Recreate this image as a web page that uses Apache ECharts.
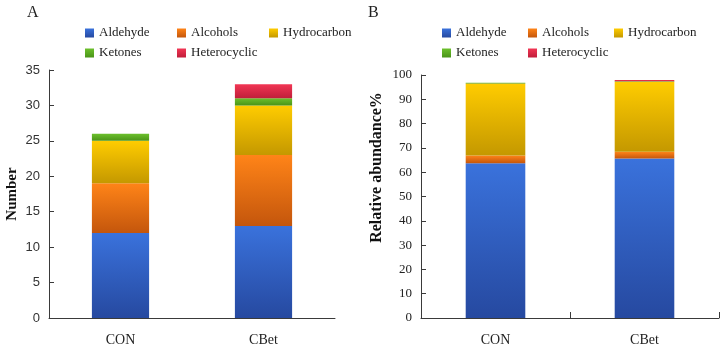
<!DOCTYPE html>
<html>
<head>
<meta charset="utf-8">
<script src="https://cdn.jsdelivr.net/npm/echarts@6/dist/echarts.min.js"></script>
<style>
  html, body { margin: 0; padding: 0; background: #fff; }
  #chart { width: 725px; height: 350px; }
</style>
</head>
<body>
<div id="chart"></div>
<script>
const groups = ['CON', 'CBet']
const classes = ['Aldehyde', 'Alcohols', 'Hydrocarbon', 'Ketones', 'Heterocyclic']

// panel A: number of compounds, one array per class, [CON, CBet]
const countAldehyde = [12, 13]
const countAlcohols = [7, 10]
const countHydrocarbon = [6, 7]
const countKetones = [1, 1]
const countHeterocyclic = [0, 2]

// panel B: relative abundance %, [CON, CBet]
const relAldehyde = [63.7, 65.6]
const relAlcohols = [3.2, 2.8]
const relHydrocarbon = [29.6, 28.8]
const relKetones = [0.3, 0.2]
const relHeterocyclic = [0, 0.5]

const countTicks = [0, 5, 10, 15, 20, 25, 30, 35]
const relTicks = [0, 10, 20, 30, 40, 50, 60, 70, 80, 90, 100]

const countData = [countAldehyde, countAlcohols, countHydrocarbon, countKetones, countHeterocyclic]
const relData = [relAldehyde, relAlcohols, relHydrocarbon, relKetones, relHeterocyclic]

const serif = '"Liberation Serif", "Times New Roman", serif'
const sans = '"Liberation Sans", Arial, sans-serif'
const axisColor = '#3a3a3a'

// excel-ish vertical gradient on each segment
const shades = [
    ['#3a72dc', '#2649a0'],
    ['#ff8418', '#c4560c'],
    ['#ffcc00', '#c49800'],
    ['#6cc02c', '#4a9418'],
    ['#f23654', '#c01e3a']
]
function grad(i) {
    return new echarts.graphic.LinearGradient(0, 0, 0, 1, [
        { offset: 0, color: shades[i][0] },
        { offset: 1, color: shades[i][1] }
    ])
}

let myChart = echarts.init(document.getElementById('chart'), null, { renderer: 'canvas' })

function legendFor(left, textW) {
    return {
        left: left,
        top: 21,
        width: 3 * (9 + 5 + textW + 6) - 3,
        orient: 'horizontal',
        itemWidth: 9,
        itemHeight: 9,
        itemGap: 6,
        icon: 'rect',
        data: classes,
        textStyle: {
            fontFamily: serif,
            fontSize: 13,
            color: '#222',
            width: textW,
            lineHeight: 14
        }
    }
}

function seriesFor(data, axisIndex) {
    return classes.map((name, i) => ({
        name: name,
        type: 'bar',
        stack: 'tot' + axisIndex,
        xAxisIndex: axisIndex,
        yAxisIndex: axisIndex,
        barWidth: '40%',
        data: data[i],
        itemStyle: { color: grad(i) },
        emphasis: { disabled: true },
        animation: false
    }))
}

let option = {
    backgroundColor: '#fff',
    animation: false,
    graphic: [
        { type: 'text', left: 27, top: 5, style: { text: 'A', font: '16px ' + serif, fill: '#222' } },
        { type: 'text', left: 368, top: 5, style: { text: 'B', font: '16px ' + serif, fill: '#222' } }
    ],
    legend: [legendFor(80, 72), legendFor(437, 66)],
    grid: [
        { left: 49, top: 70, width: 286, bottom: 32 },
        { left: 421, top: 75, width: 298, bottom: 32 }
    ],
    xAxis: [
        {
            type: 'category',
            gridIndex: 0,
            data: groups,
            axisLine: { lineStyle: { color: axisColor, width: 1 } },
            axisTick: { show: false },
            axisLabel: { fontFamily: serif, fontSize: 14, color: '#222', margin: 15 }
        },
        {
            type: 'category',
            gridIndex: 1,
            data: groups,
            axisLine: { lineStyle: { color: axisColor, width: 1 } },
            axisTick: { show: true, inside: true, length: 6, lineStyle: { color: axisColor } },
            axisLabel: { fontFamily: serif, fontSize: 14, color: '#222', margin: 15 }
        }
    ],
    yAxis: [
        {
            type: 'value',
            gridIndex: 0,
            min: countTicks[0],
            max: countTicks[countTicks.length - 1],
            interval: 5,
            name: 'Number',
            nameLocation: 'middle',
            nameGap: 29,
            nameTextStyle: { fontFamily: serif, fontSize: 15, fontWeight: 'bold', color: '#111' },
            axisLine: { show: true, lineStyle: { color: axisColor, width: 1 } },
            axisTick: { show: true, inside: true, length: 5, lineStyle: { color: axisColor } },
            axisLabel: { fontFamily: sans, fontSize: 13, color: '#333', margin: 9 },
            splitLine: { show: false }
        },
        {
            type: 'value',
            gridIndex: 1,
            min: relTicks[0],
            max: relTicks[relTicks.length - 1],
            interval: 10,
            name: 'Relative abundance%',
            nameLocation: 'middle',
            nameGap: 36,
            nameTextStyle: { fontFamily: serif, fontSize: 16, fontWeight: 'bold', color: '#111', padding: [0, 0, 0, 58] },
            axisLine: { show: true, lineStyle: { color: axisColor, width: 1 } },
            axisTick: { show: true, inside: true, length: 5, lineStyle: { color: axisColor } },
            axisLabel: { fontFamily: serif, fontSize: 13, color: '#222', margin: 9 },
            splitLine: { show: false }
        }
    ],
    series: seriesFor(countData, 0).concat(seriesFor(relData, 1))
}

myChart.setOption(option)
</script>
</body>
</html>
